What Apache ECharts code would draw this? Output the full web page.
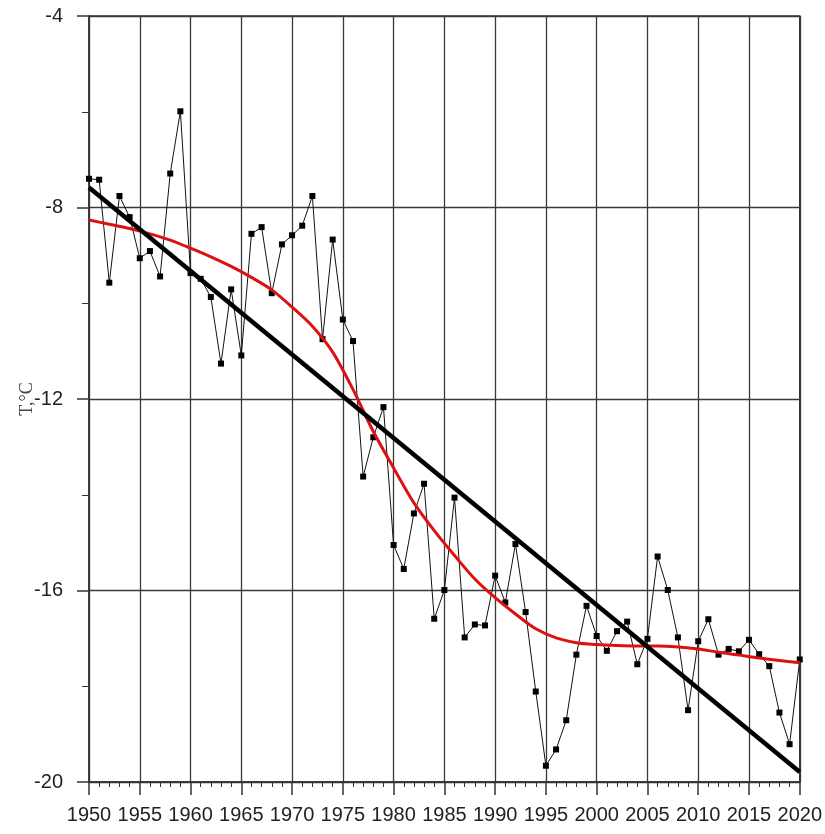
<!DOCTYPE html>
<html>
<head>
<meta charset="utf-8">
<script src="https://cdn.jsdelivr.net/npm/echarts@6/dist/echarts.min.js"></script>
<style>
  html, body { margin: 0; padding: 0; background: #fff; }
  #chart { width: 825px; height: 834px; }
</style>
</head>
<body>
<div id="chart"></div>
<script>
// yearly temperature, 1950..2020
var years = [];
for (var y = 1950; y <= 2020; y++) years.push(y);

var temps = [
  -7.40, -7.42, -9.57, -7.76, -8.20, -9.06, -8.91, -9.44, -7.29, -5.99,
  -9.37, -9.49, -9.87, -11.26, -9.71, -11.09, -8.55, -8.41, -9.79, -8.77,
  -8.58, -8.38, -7.76, -10.75, -8.67, -10.34, -10.79, -13.62, -12.80, -12.17,
  -15.05, -15.55, -14.39, -13.77, -16.59, -15.99, -14.06, -16.98, -16.71, -16.73,
  -15.69, -16.25, -15.03, -16.45, -18.11, -19.66, -19.32, -18.71, -17.34, -16.32,
  -16.95, -17.26, -16.85, -16.65, -17.54, -17.01, -15.29, -15.99, -16.98, -18.50,
  -17.06, -16.60, -17.34, -17.22, -17.27, -17.03, -17.33, -17.58, -18.55, -19.21,
  -17.44
];

// linear trend, end values
var trendYears = [1950, 2020];
var trendVals = [-7.58, -19.79];

// smoothed (red) curve, every 2 years
var smoothYears = [];
for (var s = 1950; s <= 2020; s += 2) smoothYears.push(s);
var smoothVals = [
  -8.26, -8.35, -8.44, -8.55, -8.68, -8.85, -9.03, -9.23, -9.46, -9.72,
  -10.08, -10.48, -11.02, -11.80, -12.68, -13.44, -14.17, -14.75, -15.27, -15.76,
  -16.15, -16.49, -16.80, -16.99, -17.09, -17.13, -17.15, -17.16, -17.16, -17.18,
  -17.22, -17.29, -17.35, -17.41, -17.46, -17.51
];

function pairs(xs, vs) {
  return xs.map(function (x, i) { return [x, vs[i]]; });
}

var chart = echarts.init(document.getElementById('chart'));
var axisCol = '#333';
var labelFont = 'Arial, Liberation Sans, sans-serif';
var option = {
  animation: false,
  grid: { left: 89, right: 24, top: 16, bottom: 52, show: true, borderColor: axisCol, borderWidth: 1.5 },
  xAxis: {
    type: 'value', min: 1950, max: 2020, interval: 5,
    axisLine: { lineStyle: { color: axisCol, width: 1.5 } },
    axisTick: { length: 13, lineStyle: { color: axisCol, width: 1.5 } },
    minorTick: { show: true, splitNumber: 5, length: 5, lineStyle: { color: axisCol, width: 1 } },
    splitLine: { show: true, lineStyle: { color: '#3a3a3a', width: 1.3 } },
    axisLabel: { color: '#222', fontSize: 20, fontFamily: labelFont, margin: 23,
      formatter: function (v) { return String(v); } }
  },
  yAxis: {
    type: 'value', min: -20, max: -4, interval: 4,
    name: 'T,°C', nameLocation: 'middle', nameGap: 53, nameMoveOverlap: false,
    nameTextStyle: { color: '#444', fontSize: 18, fontFamily: 'Times New Roman, Liberation Serif, serif' },
    axisLine: { show: true, lineStyle: { color: axisCol, width: 1.5 } },
    axisTick: { length: 12, lineStyle: { color: axisCol, width: 1.5 } },
    minorTick: { show: true, splitNumber: 2, length: 7, lineStyle: { color: axisCol, width: 1 } },
    splitLine: { show: true, lineStyle: { color: '#3a3a3a', width: 1.3 } },
    axisLabel: { color: '#222', fontSize: 20, fontFamily: labelFont, margin: 26 }
  },
  series: [
    {
      type: 'line', data: pairs(years, temps),
      symbol: 'rect', symbolSize: 6,
      itemStyle: { color: '#000' },
      lineStyle: { color: '#111', width: 1 },
      z: 2
    },
    {
      type: 'line', data: pairs(smoothYears, smoothVals),
      smooth: 0.3, showSymbol: false,
      lineStyle: { color: '#dd1111', width: 3 },
      z: 3
    },
    {
      type: 'line', data: pairs(trendYears, trendVals),
      showSymbol: false,
      lineStyle: { color: '#000', width: 4.5 },
      z: 4
    }
  ]
};
chart.setOption(option);
</script>
</body>
</html>
